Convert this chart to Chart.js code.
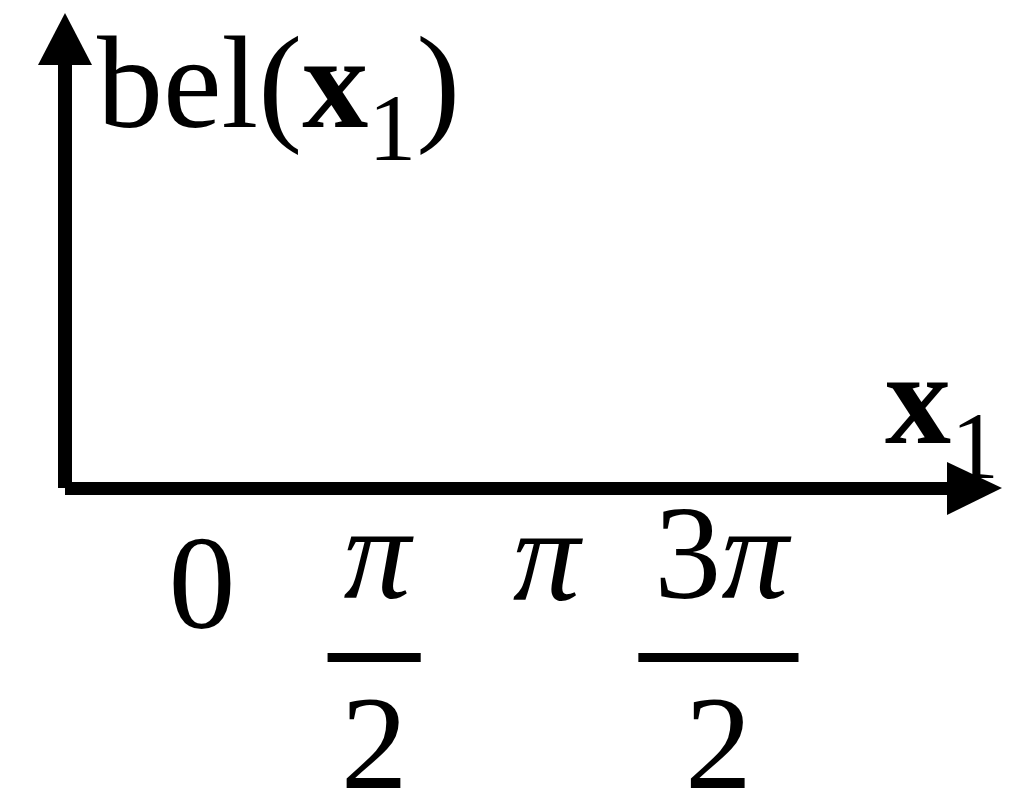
<!DOCTYPE html>
<html>
<head>
<meta charset="utf-8">
<script src="https://cdn.jsdelivr.net/npm/chart.js@4.4.1/dist/chart.umd.min.js"></script>
<style>
    html, body { margin: 0; padding: 0; background: #fff; }
    canvas { display: block; }
</style>
</head>
<body>
<canvas id="beliefChart" width="1024" height="807"></canvas>
<script>
// Angle ticks along x1 and their fraction labels
const tickValues = [0, Math.PI / 2, Math.PI, 3 * Math.PI / 2];
const tickNumerators = ['0', 'π', 'π', '3π'];
const tickDenominators = ['', '2', '', '2'];

// Axis range (radians) and the belief curve, which is empty here
const xRange = [-1.25, 7.3];
const yRange = [0, 1];
const beliefPoints = [];

const serif = "'Liberation Serif', 'Times New Roman', serif";

// draws a run of text where π is set in italic
function drawMath(ctx, text, x, y, size) {
    let cx = x;
    for (const ch of text) {
        ctx.font = (ch === 'π' ? 'italic ' : '') + size + 'px ' + serif;
        ctx.fillText(ch, cx, y);
        cx += ctx.measureText(ch).width;
    }
    return cx;
}

function mathWidth(ctx, text, size) {
    let w = 0;
    for (const ch of text) {
        ctx.font = (ch === 'π' ? 'italic ' : '') + size + 'px ' + serif;
        w += ctx.measureText(ch).width;
    }
    return w;
}

const axesPlugin = {
    id: 'arrowAxes',
    afterDraw(chart) {
        const ctx = chart.ctx;
        const area = chart.chartArea;
        const x = chart.scales.x;
        ctx.save();
        ctx.fillStyle = '#000';

        // vertical axis with arrow head
        ctx.fillRect(area.left - 7, area.top + 48, 14, area.bottom - area.top - 48);
        ctx.beginPath();
        ctx.moveTo(area.left - 27, area.top + 52);
        ctx.lineTo(area.left + 27, area.top + 52);
        ctx.lineTo(area.left, area.top);
        ctx.closePath();
        ctx.fill();

        // horizontal axis with arrow head
        ctx.fillRect(area.left, area.bottom - 6, area.right - 52 - area.left, 13);
        ctx.beginPath();
        ctx.moveTo(area.right - 55, area.bottom - 26);
        ctx.lineTo(area.right - 55, area.bottom + 27);
        ctx.lineTo(area.right, area.bottom);
        ctx.closePath();
        ctx.fill();

        // y axis title: bel(x1)
        ctx.textAlign = 'left';
        ctx.textBaseline = 'alphabetic';
        let tx = area.left + 32;
        const ty = area.top + 114;
        ctx.font = '132px ' + serif;
        ctx.fillText('bel(', tx, ty);
        tx += ctx.measureText('bel(').width;
        ctx.font = 'bold 132px ' + serif;
        ctx.fillText('x', tx, ty);
        tx += ctx.measureText('x').width;
        ctx.font = '96px ' + serif;
        ctx.fillText('1', tx, ty + 33);
        tx += ctx.measureText('1').width;
        ctx.font = '132px ' + serif;
        ctx.fillText(')', tx, ty);

        // x axis title: x1
        let rx = 885;
        const ry = area.bottom - 45;
        ctx.font = 'bold 132px ' + serif;
        ctx.fillText('x', rx, ry);
        rx += ctx.measureText('x').width;
        ctx.font = '96px ' + serif;
        ctx.fillText('1', rx, ry + 35);

        // tick labels, written as fractions where needed
        const size = 134;
        tickValues.forEach((v, i) => {
            const px = x.getPixelForValue(v);
            const num = tickNumerators[i];
            const den = tickDenominators[i];
            if (!den) {
                ctx.font = (num === 'π' ? 'italic ' : '') + size + 'px ' + serif;
                const m = ctx.measureText(num);
                const base = area.bottom + 50 + m.actualBoundingBoxAscent;
                drawMath(ctx, num, px - mathWidth(ctx, num, size) / 2, base, size);
                return;
            }
            const nw = mathWidth(ctx, num, size);
            drawMath(ctx, num, px - nw / 2 + 3, area.bottom + 110, size);
            const barW = nw + 26;
            ctx.fillRect(px - barW / 2, area.bottom + 165, barW, 9);
            ctx.font = size + 'px ' + serif;
            const dw = ctx.measureText(den).width;
            ctx.fillText(den, px - dw / 2, area.bottom + 300);
        });
        ctx.restore();
    }
};

new Chart(document.getElementById('beliefChart'), {
    type: 'scatter',
    data: {
        datasets: [{
            label: 'bel(x1)',
            data: beliefPoints,
            borderColor: '#000',
            showLine: true,
            pointRadius: 0
        }]
    },
    options: {
        responsive: false,
        animation: false,
        layout: { padding: { left: 65, right: 22, top: 13, bottom: 319 } },
        plugins: {
            legend: { display: false },
            tooltip: { enabled: false }
        },
        scales: {
            x: { type: 'linear', min: xRange[0], max: xRange[1], display: false },
            y: { min: yRange[0], max: yRange[1], display: false }
        }
    },
    plugins: [axesPlugin]
});
</script>
</body>
</html>
